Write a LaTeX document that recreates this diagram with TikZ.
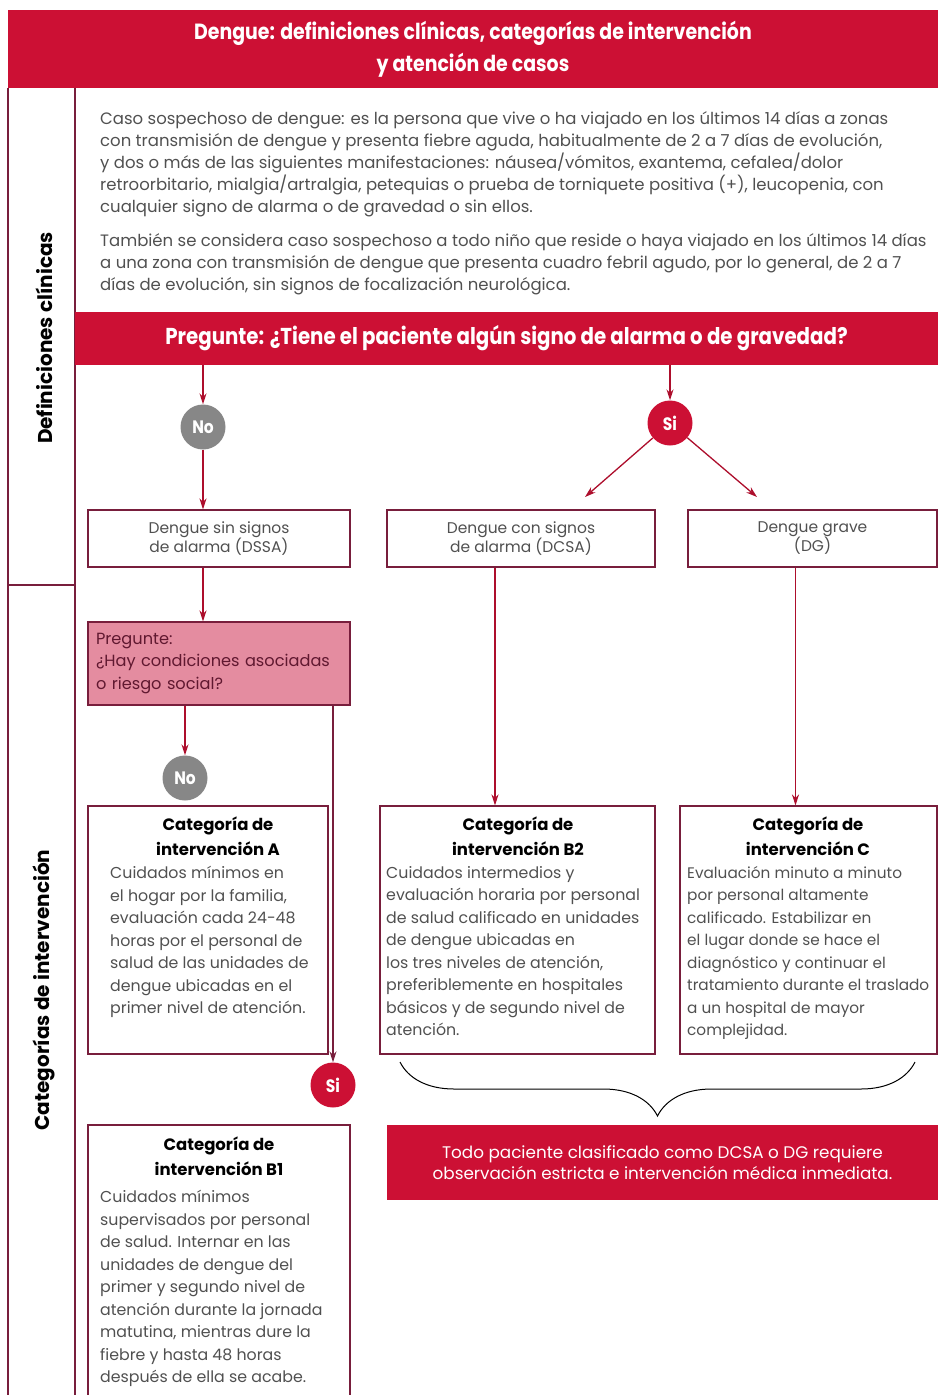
\documentclass[tikz,border=0pt]{standalone}
\usepackage{fontspec}
\setmainfont{Poppins}
\newfontfamily\condfont[FakeStretch=0.86]{Poppins}
\usetikzlibrary{arrows.meta,decorations.pathreplacing}

\definecolor{dengred}{RGB}{204,16,52}
\definecolor{linemaroon}{RGB}{120,30,60}
\definecolor{askpink}{RGB}{228,140,160}
\definecolor{nogray}{RGB}{135,135,135}
\definecolor{bodygray}{RGB}{80,80,80}

\begin{document}
\begin{tikzpicture}[x=1pt, y=-1pt,
    redbar/.style={rectangle, fill=dengred, text=white, inner sep=0pt, align=center},
    catbox/.style={rectangle, draw=linemaroon, line width=1.1pt, inner sep=0pt},
    answer/.style={circle, minimum size=45pt, inner sep=0pt, text=white, font=\condfont\bfseries\fontsize{18}{18}\selectfont},
    flow/.style={draw=dengred!85!black, line width=1.3pt, -{Stealth[length=11pt,width=7pt]}},
    cattitle/.style={anchor=north, align=center, inner sep=0pt, font=\bfseries\fontsize{16.5}{25}\selectfont},
    cattext/.style={anchor=north west, align=left, inner sep=0pt, text=bodygray, font=\fontsize{15.8}{22.5}\selectfont}
]
\useasboundingbox (0,0) rectangle (938,1395);

% the header
\node[redbar, minimum width=930pt, minimum height=78pt, font=\condfont\bfseries\fontsize{22}{32}\selectfont] (head) at (473,49) {Dengue: definiciones clínicas, categorías de intervención\\y atención de casos};

% the side column with its two sections
\draw[linemaroon, line width=1.1pt] (8,88) -- (8,1400) (75,88) -- (75,1400) (8,585) -- (75,585);
\node[rotate=90, font=\bfseries\fontsize{20}{20}\selectfont] (secdef) at (44,338) {Definiciones clínicas};
\node[rotate=90, font=\bfseries\fontsize{20}{20}\selectfont] (seccat) at (44,990) {Categorías de intervención};

% the clinical definitions
\node[anchor=north west, align=left, inner sep=0pt, text=bodygray, font=\fontsize{16.5}{22}\selectfont] (defs) at (100,111) {Caso sospechoso de dengue: es la persona que vive o ha viajado en los últimos 14 días a zonas\\con transmisión de dengue y presenta fiebre aguda, habitualmente de 2 a 7 días de evolución,\\y dos o más de las siguientes manifestaciones: náusea/vómitos, exantema, cefalea/dolor\\retroorbitario, mialgia/artralgia, petequias o prueba de torniquete positiva (+), leucopenia, con\\cualquier signo de alarma o de gravedad o sin ellos.\\[12pt]También se considera caso sospechoso a todo niño que reside o haya viajado en los últimos 14 días\\a una zona con transmisión de dengue que presenta cuadro febril agudo, por lo general, de 2 a 7\\días de evolución, sin signos de focalización neurológica.};

% the question and the answers
\node[redbar, minimum width=863pt, minimum height=53pt, font=\condfont\bfseries\fontsize{23}{23}\selectfont] (ask) at (506.5,338.5) {Pregunte: ¿Tiene el paciente algún signo de alarma o de gravedad?};
\node[answer, fill=nogray] (no1) at (203,427) {No};
\node[answer, fill=dengred] (si1) at (670,423) {Si};
\coordinate (toDcsa) at (585,497);
\coordinate (toDg) at (757,497);

% the three clinical groups
\node[catbox, minimum width=262pt, minimum height=57pt, align=center, text=bodygray, font=\fontsize{15.5}{19}\selectfont] (dssa) at (219,538.5) {Dengue sin signos\\de alarma (DSSA)};
\node[catbox, minimum width=268pt, minimum height=57pt, align=center, text=bodygray, font=\fontsize{15.5}{19}\selectfont] (dcsa) at (521,538.5) {Dengue con signos\\de alarma (DCSA)};
\node[catbox, minimum width=249pt, minimum height=57pt, align=center, text=bodygray, font=\fontsize{15.5}{19}\selectfont] (dg) at (812.5,538.5) {Dengue grave\\(DG)};

% second question for the DSSA group
\node[catbox, fill=askpink, text width=246pt, inner xsep=8pt, minimum height=83pt, align=left, text=linemaroon!80!black, font=\fontsize{16.2}{22.5}\selectfont] (risk) at (219,663.5) {Pregunte:\\¿Hay condiciones asociadas\\o riesgo social?};
\node[answer, fill=nogray] (no2) at (185,778) {No};
\node[answer, fill=dengred] (si2) at (333,1085) {Si};

% the intervention categories
\node[catbox, minimum width=240pt, minimum height=248pt] (catA) at (208,930) {};
\node[cattitle] (titA) at (218,817) {Categoría de\\intervención A};
\node[cattext] (txtA) at (110,866) {Cuidados mínimos en\\el hogar por la familia,\\evaluación cada 24-48\\horas por el personal de\\salud de las unidades de\\dengue ubicadas en el\\primer nivel de atención.};

\node[catbox, minimum width=275pt, minimum height=248pt] (catB2) at (517.5,930) {};
\node[cattitle] (titB2) at (518,817) {Categoría de\\intervención B2};
\node[cattext] (txtB2) at (386,866) {Cuidados intermedios y\\evaluación horaria por personal\\de salud calificado en unidades\\de dengue ubicadas en\\los tres niveles de atención,\\preferiblemente en hospitales\\básicos y de segundo nivel de\\atención.};

\node[catbox, minimum width=257pt, minimum height=248pt] (catC) at (808.5,930) {};
\node[cattitle] (titC) at (808,817) {Categoría de\\intervención C};
\node[cattext, font=\fontsize{15.3}{22.5}\selectfont] (txtC) at (687,866) {Evaluación minuto a minuto\\por personal altamente\\calificado. Estabilizar en\\el lugar donde se hace el\\diagnóstico y continuar el\\tratamiento durante el traslado\\a un hospital de mayor\\complejidad.};

\node[catbox, minimum width=262pt, minimum height=275pt] (catB1) at (219,1262.5) {};
\node[cattitle] (titB1) at (219,1137) {Categoría de\\intervención B1};
\node[cattext] (txtB1) at (100,1190) {Cuidados mínimos\\supervisados por personal\\de salud. Internar en las\\unidades de dengue del\\primer y segundo nivel de\\atención durante la jornada\\matutina, mientras dure la\\fiebre y hasta 48 horas\\después de ella se acabe.};

% the brace and the warning
\draw[decorate, decoration={brace, amplitude=54pt}, line width=1pt] (915,1062) -- (400,1062);
\node[redbar, minimum width=551pt, minimum height=75pt, font=\fontsize{16.8}{21}\selectfont] (strict) at (662.5,1162.5) {Todo paciente clasificado como DCSA o DG requiere\\observación estricta e intervención médica inmediata.};

% draw the arrows
\draw[flow] (ask.south -| no1) -- (no1.north);
\draw[flow] (ask.south -| si1) -- (si1.north);
\draw[flow] (si1) -- (toDcsa);
\draw[flow] (si1) -- (toDg);
\draw[flow] (no1) -- (no1 |- dssa.north);
\draw[flow] (dssa.south -| no1) -- (risk.north -| no1);
\draw[flow] (risk.south -| no2) -- (no2.north);
\draw[flow, draw=linemaroon, line width=1.1pt] (risk.south -| si2) -- (si2.north);
\draw[flow] ([xshift=-26pt]dcsa.south) -- ([xshift=-26pt]dcsa.south |- catB2.north);
\draw[flow] ([xshift=-17pt]dg.south) -- ([xshift=-17pt]dg.south |- catC.north);

\end{tikzpicture}
\end{document}
